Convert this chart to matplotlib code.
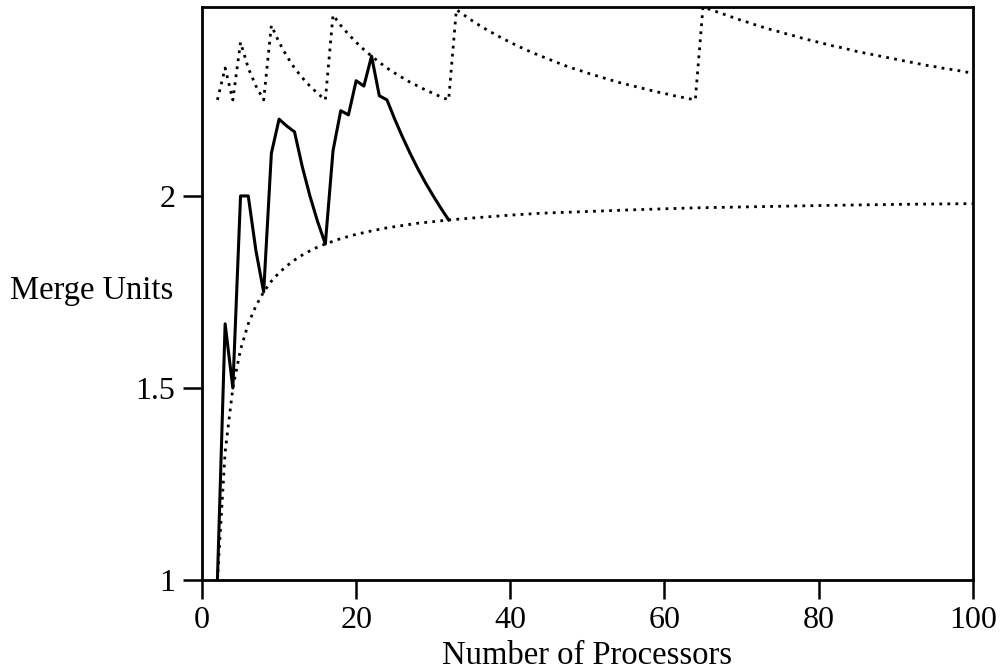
import matplotlib

matplotlib.use("Agg")
import matplotlib.pyplot as plt

# -----------------------------------------------------------------------------
# Configuration
# -----------------------------------------------------------------------------

OUTPUT_PATH = "out.png"
SAVE_DPI = 100
FIG_SIZE = (10.04, 6.71)

FONT_FAMILY = "Liberation Serif"
TICK_FONT_SIZE = 23
LABEL_FONT_SIZE = 23.5

LINE_WIDTH = 2.2
DOT_WIDTH = 2.0
DOT_STYLE = (0, (1, 1.9))

# -----------------------------------------------------------------------------
# Data
# -----------------------------------------------------------------------------

# Solid curve: p = 2 .. 32
measured_procs = list(range(2, 33))
measured_units = [
    1.0, 1.667, 1.5, 2.0, 2.0, 1.857, 1.75,
    2.111, 2.2, 2.182, 2.167, 2.077, 2.0, 1.933, 1.875,
    2.118, 2.222, 2.211, 2.3, 2.286, 2.364, 2.261, 2.25,
    2.2, 2.154, 2.111, 2.071, 2.034, 2.0, 1.968, 1.9375,
]

# Upper dotted saw-tooth: p = 2 .. 100
upper_procs = list(range(2, 101))
upper_units = [
    2.25, 2.333, 2.25,
    2.4, 2.333, 2.286, 2.25,
    2.444, 2.4, 2.364, 2.333, 2.308, 2.286, 2.267, 2.25,
    2.471, 2.444, 2.421, 2.4, 2.381, 2.364, 2.348, 2.333,
    2.32, 2.308, 2.296, 2.286, 2.276, 2.267, 2.258, 2.25,
    2.485, 2.471, 2.457, 2.444, 2.432, 2.421, 2.41, 2.4,
    2.39, 2.381, 2.372, 2.364, 2.356, 2.348, 2.34, 2.333,
    2.327, 2.32, 2.314, 2.308, 2.302, 2.296, 2.291, 2.286,
    2.281, 2.276, 2.271, 2.267, 2.262, 2.258, 2.254, 2.25,
    2.492, 2.485, 2.478, 2.471, 2.464, 2.457, 2.451, 2.444,
    2.438, 2.432, 2.427, 2.421, 2.416, 2.41, 2.405, 2.4,
    2.395, 2.39, 2.386, 2.381, 2.376, 2.372, 2.368, 2.364,
    2.36, 2.356, 2.352, 2.348, 2.344, 2.34, 2.337, 2.333,
    2.33, 2.327, 2.323, 2.32,
]

# Lower dotted bound
lower_procs = [
    2, 3, 4, 5, 6, 7, 8, 9, 10, 11, 12, 13, 14, 15, 16,
    18, 20, 22, 24, 26, 28, 30, 32, 36, 40, 44, 48,
    56, 64, 72, 80, 90, 100,
]
lower_units = [
    1.0, 1.333, 1.5, 1.6, 1.667, 1.714, 1.75, 1.778, 1.8,
    1.818, 1.833, 1.846, 1.857, 1.867, 1.875,
    1.889, 1.9, 1.909, 1.917, 1.923, 1.929, 1.933, 1.9375,
    1.944, 1.95, 1.955, 1.958, 1.964, 1.969, 1.972, 1.975,
    1.978, 1.98,
]

x_ticks = [0, 20, 40, 60, 80, 100]
y_ticks = [1, 1.5, 2]
y_tick_labels = ["1", "1.5", "2"]

# -----------------------------------------------------------------------------
# Plotting
# -----------------------------------------------------------------------------


def main():
    plt.rcParams["font.family"] = [FONT_FAMILY, "DejaVu Serif"]

    fig = plt.figure(figsize=FIG_SIZE)
    ax = fig.add_axes([0.2012, 0.1356, 0.7677, 0.854])

    ax.plot(upper_procs, upper_units, color="black",
            linewidth=DOT_WIDTH, linestyle=DOT_STYLE)
    ax.plot(lower_procs, lower_units, color="black",
            linewidth=DOT_WIDTH, linestyle=DOT_STYLE)
    ax.plot(measured_procs, measured_units, color="black",
            linewidth=LINE_WIDTH)

    ax.set_xlim(0, 100)
    ax.set_ylim(1, max(upper_units))

    ax.set_xticks(x_ticks)
    ax.set_yticks(y_ticks)
    ax.set_yticklabels(y_tick_labels)

    ax.tick_params(axis="both", direction="out", length=14, width=1.8,
                   pad=5, labelsize=TICK_FONT_SIZE, color="black")

    for spine in ax.spines.values():
        spine.set_linewidth(2.0)

    ax.set_xlabel("Number of Processors", fontsize=LABEL_FONT_SIZE,
                  labelpad=4)
    ax.set_ylabel("Merge Units", fontsize=LABEL_FONT_SIZE,
                  rotation=0, ha="right", va="center")
    ax.yaxis.set_label_coords(-0.037, 0.505)

    fig.savefig(OUTPUT_PATH, dpi=SAVE_DPI)
    plt.close(fig)


if __name__ == "__main__":
    main()
